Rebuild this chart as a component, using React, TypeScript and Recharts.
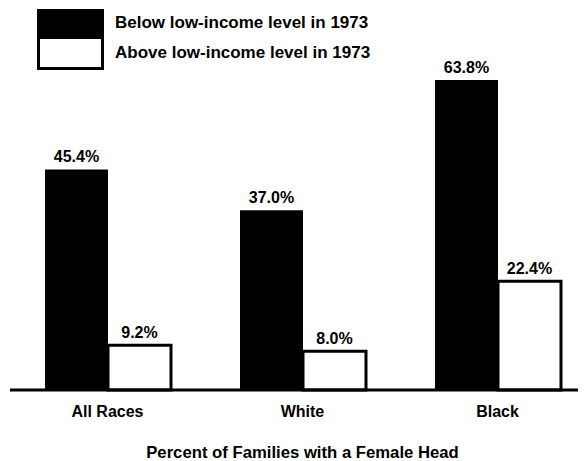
import { Bar, BarChart, LabelList, XAxis, YAxis } from "recharts";

const groups = ["All Races", "White", "Black"];
const belowLowIncome = [45.4, 37.0, 63.8];
const aboveLowIncome = [9.2, 8.0, 22.4];
const legendLabels = ["Below low-income level in 1973", "Above low-income level in 1973"];
const title = "Percent of Families with a Female Head";

const data = groups.map((group, i) => ({
  group,
  below: belowLowIncome[i],
  above: aboveLowIncome[i],
}));

const FONT = '"Liberation Sans", Arial, Helvetica, sans-serif';

const pct = (v: any) => `${Number(v).toFixed(1)}%`;

function LegendBox() {
  const text = {
    position: "absolute" as const,
    left: 115,
    fontFamily: FONT,
    fontSize: 17,
    fontWeight: 700,
    lineHeight: "20px",
    color: "#000",
    whiteSpace: "nowrap" as const,
  };
  return (
    <>
      <div
        style={{ position: "absolute", left: 37, top: 9, width: 67, height: 28, background: "#000" }}
      />
      <div
        style={{
          position: "absolute",
          left: 37,
          top: 36,
          width: 67,
          height: 34,
          boxSizing: "border-box",
          border: "3px solid #000",
          background: "#fff",
        }}
      />
      <div style={{ ...text, top: 13 }}>{legendLabels[0]}</div>
      <div style={{ ...text, top: 43 }}>{legendLabels[1]}</div>
    </>
  );
}

export default function App() {
  return (
    <div style={{ position: "relative", margin: "-8px 0 0 -8px", width: 606, height: 461 }}>
      <BarChart
        width={606}
        height={461}
        data={data}
        margin={{ top: 50, right: 11, bottom: 1, left: 10 }}
        barGap={0}
        barSize={63}
      >
        <YAxis hide domain={[0, 70]} />
        <XAxis
          dataKey="group"
          height={70}
          axisLine={{ stroke: "#000", strokeWidth: 3 }}
          tickLine={false}
          tickSize={0}
          tickMargin={16}
          tick={{ fill: "#000", fontSize: 16, fontWeight: 700, fontFamily: FONT }}
          label={{
            value: title,
            position: "insideBottom",
            offset: 2,
            fill: "#000",
            fontSize: 16.7,
            fontWeight: 700,
            fontFamily: FONT,
          }}
        />
        <Bar dataKey="below" fill="#000" isAnimationActive={false}>
          <LabelList
            dataKey="below"
            position="top"
            offset={7}
            formatter={pct}
            fill="#000"
            fontSize={16}
            fontWeight={700}
            fontFamily={FONT}
          />
        </Bar>
        <Bar dataKey="above" fill="#fff" stroke="#000" strokeWidth={3} isAnimationActive={false}>
          <LabelList
            dataKey="above"
            position="top"
            offset={7}
            formatter={pct}
            fill="#000"
            fontSize={16}
            fontWeight={700}
            fontFamily={FONT}
          />
        </Bar>
      </BarChart>
      <LegendBox />
    </div>
  );
}
